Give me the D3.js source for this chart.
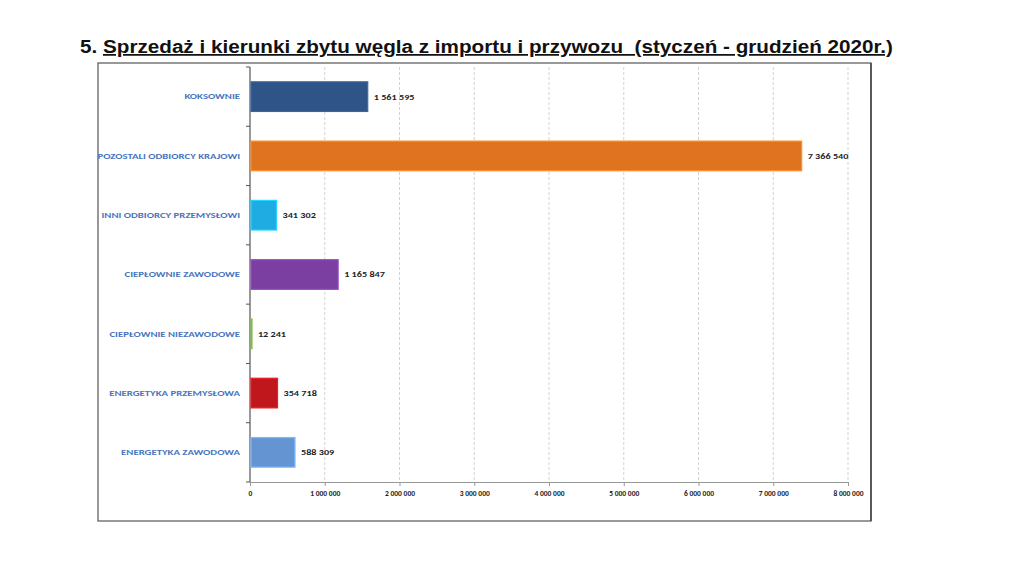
<!DOCTYPE html>
<html><head><meta charset="utf-8">
<script src="https://cdn.jsdelivr.net/npm/d3@7/dist/d3.min.js"></script>
<style>body{margin:0;background:#fff}svg{display:block}</style>
</head><body>
<svg id="c" width="1024" height="576"></svg>
<script>
const categories = ["KOKSOWNIE","POZOSTALI ODBIORCY KRAJOWI","INNI ODBIORCY PRZEMYSŁOWI","CIEPŁOWNIE ZAWODOWE","CIEPŁOWNIE NIEZAWODOWE","ENERGETYKA PRZEMYSŁOWA","ENERGETYKA ZAWODOWA"];
const values = [1561595, 7366540, 341302, 1165847, 12241, 354718, 588309];
const barColors = ["#2F5487","#E0731F","#1EACE2","#7B3FA1","#6A9A3A","#C0171C","#6495D2"];
const xTicks = [0,1000000,2000000,3000000,4000000,5000000,6000000,7000000,8000000];
const title = "5. Sprzedaż i kierunki zbytu węgla z importu i przywozu  (styczeń - grudzień 2020r.)";

const svg = d3.select("#c");
const fmt = v => d3.format(",")(v).replace(/,/g, " ");

// title
const t = svg.append("text").attr("x",80).attr("y",53).style("white-space","pre")
  .attr("font-family","Liberation Sans, Arial, sans-serif").attr("font-size",17.5).attr("font-weight","bold")
  .attr("fill","#111").attr("textLength",813).attr("lengthAdjust","spacingAndGlyphs");
t.append("tspan").text("5. ");
t.append("tspan").attr("text-decoration","underline").text(title.slice(3));

// frame
svg.append("rect").attr("x",98).attr("y",63).attr("width",773).attr("height",458)
  .attr("fill","none").attr("stroke","#555").attr("stroke-width",1.2);
svg.append("line").attr("x1",871).attr("x2",871).attr("y1",63).attr("y2",521).attr("stroke","#444").attr("stroke-width",1.5);

const x = d3.scaleLinear().domain([0,8000000]).range([250,848]);
const y = d3.scaleBand().domain(categories).range([67,482]).paddingInner(0.5).paddingOuter(0.25);

// gridlines
svg.append("g").selectAll("line").data(xTicks.slice(1)).join("line")
  .attr("x1",d=>x(d)).attr("x2",d=>x(d)).attr("y1",67).attr("y2",482)
  .attr("stroke","#c8c8c8").attr("stroke-dasharray","3,2").attr("stroke-width",0.8);

// x axis
const xa = svg.append("g").attr("transform","translate(0,482)")
  .call(d3.axisBottom(x).tickValues(xTicks).tickSize(4).tickFormat(fmt));
xa.select(".domain").attr("stroke","#999");
xa.selectAll(".tick line").attr("stroke","#999");
xa.selectAll("text").attr("font-family","Carlito, Liberation Sans, sans-serif").attr("font-size",7.5)
  .attr("font-weight","bold").attr("fill","#222").attr("dy","0.95em");

// y axis line and ticks between categories
svg.append("line").attr("x1",250).attr("x2",250).attr("y1",67).attr("y2",482).attr("stroke","#555").attr("stroke-width",1.2);
svg.append("g").selectAll("line").data(d3.range(categories.length+1)).join("line")
  .attr("x1",246).attr("x2",250)
  .attr("y1",(d)=>482 - d*(415/categories.length)).attr("y2",(d)=>482 - d*(415/categories.length))
  .attr("stroke","#555");

// bars
svg.append("g").selectAll("rect").data(categories).join("rect")
  .attr("x",x(0)+1).attr("y",d=>y(d))
  .attr("width",(d,i)=>Math.max(1,x(values[i])-x(0)))
  .attr("height",y.bandwidth())
  .attr("fill",(d,i)=>barColors[i])
  .attr("stroke",(d,i)=>d3.color(barColors[i]).brighter(0.6))
  .attr("stroke-width",1.2);

// category labels (horizontally stretched like reference)
svg.append("g").selectAll("text").data(categories).join("text")
  .attr("transform",d=>`translate(240,${y(d)+y.bandwidth()/2}) scale(1.38,1)`).attr("dy","0.35em")
  .attr("text-anchor","end").attr("font-family","Carlito, Liberation Sans, sans-serif")
  .attr("font-size",7.8).attr("font-weight","bold").attr("fill","#4A76BE").text(d=>d);

// value labels
svg.append("g").selectAll("text").data(categories).join("text")
  .attr("transform",(d,i)=>`translate(${x(values[i])+7},${y(d)+y.bandwidth()/2}) scale(1.2,1)`).attr("dy","0.35em")
  .attr("font-family","Carlito, Liberation Sans, sans-serif")
  .attr("font-size",8.5).attr("font-weight","bold").attr("fill","#222").text((d,i)=>fmt(values[i]));
</script>
</body></html>
